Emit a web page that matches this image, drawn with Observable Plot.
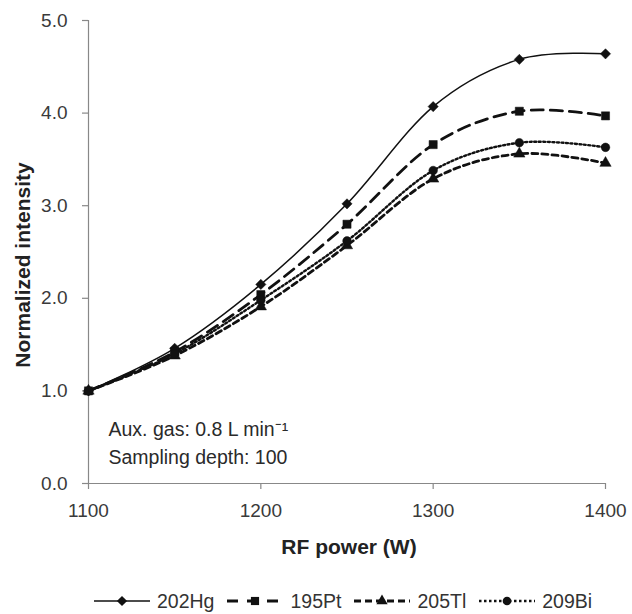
<!DOCTYPE html>
<html><head><meta charset="utf-8">
<script src="https://cdn.jsdelivr.net/npm/d3@7"></script>
<script src="https://cdn.jsdelivr.net/npm/@observablehq/plot@0.6"></script>
<style>
body{margin:0;background:#fff;font-family:"Liberation Sans",Arial,sans-serif;}
#chart{position:relative;width:632px;height:614px;}
#legend{position:absolute;left:93px;top:590px;height:22px;display:flex;justify-content:flex-start;align-items:center;font-size:19.5px;color:#333;}
.item{display:flex;align-items:center;margin-right:12px;}
.item span{margin-left:6px;}
</style>
</head><body><div id="chart"></div><script>
const power = [1100, 1150, 1200, 1250, 1300, 1350, 1400];
const hg202 = [1.00, 1.46, 2.15, 3.02, 4.07, 4.58, 4.64];
const pt195 = [1.00, 1.42, 2.04, 2.80, 3.66, 4.02, 3.97];
const tl205 = [1.00, 1.38, 1.91, 2.57, 3.29, 3.56, 3.46];
const bi209 = [1.00, 1.40, 1.98, 2.62, 3.38, 3.68, 3.63];
const seriesNames = ["202Hg", "195Pt", "205Tl", "209Bi"];
const seriesValues = [hg202, pt195, tl205, bi209];
const xTicks = [1100, 1200, 1300, 1400];
const yTicks = [0, 1, 2, 3, 4, 5];
const xLabel = "RF power (W)";
const yLabel = "Normalized intensity";
const note1 = "Aux. gas: 0.8 L min⁻¹";
const note2 = "Sampling depth: 100";

const styles = {
  "202Hg": {dash: null, width: 1.5, symbol: "diamond2", r: 4.6, legendDash: null},
  "195Pt": {dash: "12,7", width: 2.8, symbol: "square", r: 4.6, legendDash: "11,9"},
  "205Tl": {dash: "6,4", width: 2.8, symbol: "triangle", r: 4.2, legendDash: "7,4"},
  "209Bi": {dash: "2,2.5", width: 2.4, symbol: "circle", r: 4.3, legendDash: "2.5,2.5"}
};

const data = seriesNames.flatMap((s, i) => power.map((p, j) => ({series: s, power: p, value: seriesValues[i][j]})));

const lineMarks = seriesNames.map(s => Plot.line(data.filter(d => d.series === s), {
  x: "power", y: "value", curve: "cardinal", stroke: "#111",
  strokeWidth: styles[s].width, strokeDasharray: styles[s].dash
}));
const dotMarks = seriesNames.map(s => Plot.dot(data.filter(d => d.series === s), {
  x: "power", y: "value", symbol: () => styles[s].symbol, r: styles[s].r,
  fill: "#111", stroke: "#111", strokeWidth: 0.5
}));

const plot = Plot.plot({
  width: 632, height: 575,
  marginLeft: 88, marginRight: 27, marginTop: 20, marginBottom: 92,
  style: {fontFamily: "Liberation Sans, Arial, sans-serif", color: "#333", background: "#fff"},
  x: {domain: [1100, 1400]},
  y: {domain: [0, 5]},
  symbol: {type: "identity"},
  marks: [
    Plot.axisX({ticks: xTicks, tickSize: 6, tickPadding: 14, fontSize: 19, label: null, tickFormat: d3.format("d"), stroke: "#888", strokeWidth: 1.2, fill: "#3a3a3a"}),
    Plot.axisY({ticks: yTicks, tickSize: 6, tickPadding: 15, fontSize: 19, label: null, tickFormat: d3.format(".1f"), stroke: "#888", strokeWidth: 1.2, fill: "#3a3a3a"}),
    Plot.ruleY([0], {stroke: "#888", strokeWidth: 1.2}),
    Plot.ruleX([1100], {stroke: "#888", strokeWidth: 1.2}),
    ...lineMarks,
    ...dotMarks,
    Plot.text([xLabel], {frameAnchor: "bottom", textAnchor: "middle", lineAnchor: "middle", dy: 64, dx: 2, fontSize: 21, fontWeight: "bold", fill: "#222"}),
    Plot.text([yLabel], {frameAnchor: "left", textAnchor: "middle", lineAnchor: "middle", rotate: -90, dx: -65, dy: 13, fontSize: 21, fontWeight: "bold", fill: "#222"}),
    Plot.text([note1], {frameAnchor: "bottom-left", textAnchor: "start", lineAnchor: "middle", dx: 20, dy: -54, fontSize: 19.5, fill: "#2a2a2a"}),
    Plot.text([note2], {frameAnchor: "bottom-left", textAnchor: "start", lineAnchor: "middle", dx: 20, dy: -26, fontSize: 19.5, fill: "#2a2a2a"})
  ]
});
const chart = document.getElementById("chart");
chart.appendChild(plot);

// legend
const legend = document.createElement("div");
legend.id = "legend";
const symMap = {diamond2: d3.symbolDiamond2, square: d3.symbolSquare, triangle: d3.symbolTriangle, circle: d3.symbolCircle};
seriesNames.forEach(s => {
  const st = styles[s];
  const item = document.createElement("div");
  item.className = "item";
  const svg = d3.create("svg").attr("width", 58).attr("height", 20);
  svg.append("line").attr("x1", 1).attr("x2", 57).attr("y1", 10).attr("y2", 10)
    .attr("stroke", "#111").attr("stroke-width", st.width)
    .attr("stroke-dasharray", st.legendDash);
  svg.append("path").attr("transform", "translate(29,10)")
    .attr("d", d3.symbol(symMap[st.symbol], Math.PI * st.r * st.r)())
    .attr("fill", "#111");
  item.appendChild(svg.node());
  const sp = document.createElement("span");
  sp.textContent = s;
  item.appendChild(sp);
  legend.appendChild(item);
});
chart.appendChild(legend);
</script></body></html>
